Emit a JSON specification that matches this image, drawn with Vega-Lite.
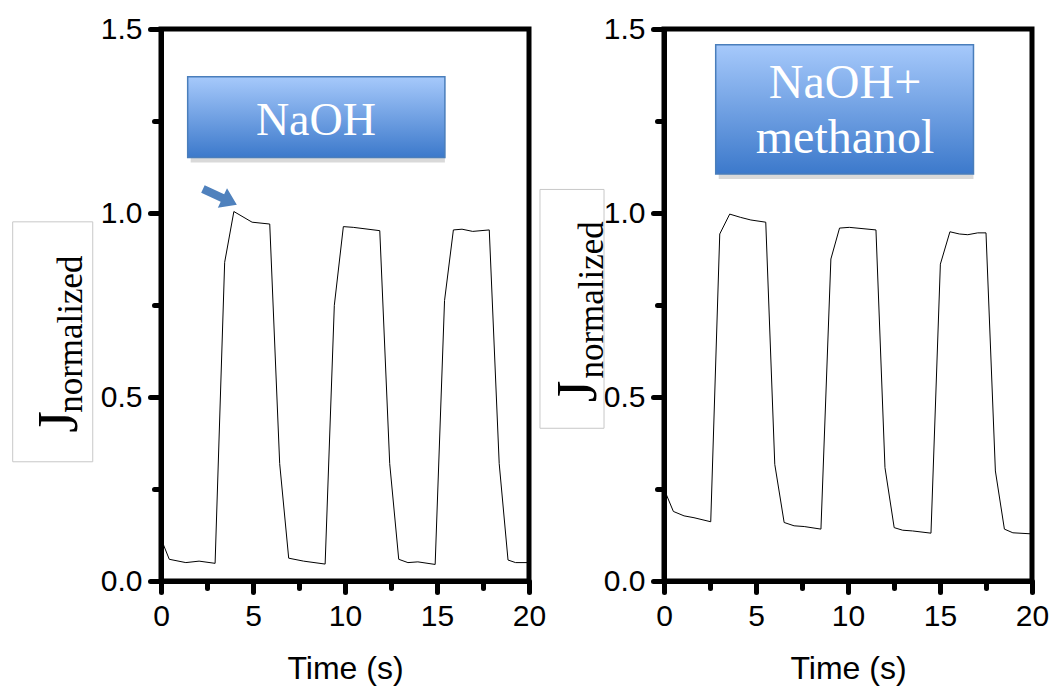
{
  "$schema": "https://vega.github.io/schema/vega-lite/v6.json",
  "background": "white",
  "padding": {"left": 9, "top": 11, "right": 0, "bottom": 0},
  "bounds": "flush",
  "spacing": 135,
  "datasets": {
    "naoh": [
      {"t": 0, "j": 0.115}, {"t": 0.45, "j": 0.059}, {"t": 1.35, "j": 0.05}, {"t": 2.07, "j": 0.054}, {"t": 2.94, "j": 0.048},
      {"t": 3.46, "j": 0.866}, {"t": 3.96, "j": 1.004}, {"t": 4.95, "j": 0.975}, {"t": 5.91, "j": 0.97}, {"t": 6.45, "j": 0.319},
      {"t": 6.94, "j": 0.062}, {"t": 7.75, "j": 0.054}, {"t": 8.92, "j": 0.046}, {"t": 9.42, "j": 0.749}, {"t": 9.91, "j": 0.963},
      {"t": 10.45, "j": 0.961}, {"t": 11.89, "j": 0.952}, {"t": 12.43, "j": 0.319}, {"t": 12.92, "j": 0.059}, {"t": 13.42, "j": 0.05},
      {"t": 13.96, "j": 0.052}, {"t": 14.9, "j": 0.045}, {"t": 15.41, "j": 0.762}, {"t": 15.89, "j": 0.954}, {"t": 16.36, "j": 0.956},
      {"t": 16.94, "j": 0.95}, {"t": 17.84, "j": 0.954}, {"t": 18.38, "j": 0.319}, {"t": 18.86, "j": 0.057}, {"t": 19.27, "j": 0.05},
      {"t": 20, "j": 0.05}
    ],
    "meoh": [
      {"t": 0, "j": 0.25}, {"t": 0.51, "j": 0.189}, {"t": 1.09, "j": 0.177}, {"t": 1.63, "j": 0.172}, {"t": 2.54, "j": 0.161},
      {"t": 3.03, "j": 0.943}, {"t": 3.57, "j": 0.997}, {"t": 4.17, "j": 0.988}, {"t": 4.72, "j": 0.981}, {"t": 5.53, "j": 0.975},
      {"t": 6.02, "j": 0.317}, {"t": 6.53, "j": 0.159}, {"t": 7.07, "j": 0.15}, {"t": 7.62, "j": 0.148}, {"t": 8.53, "j": 0.141},
      {"t": 9.07, "j": 0.875}, {"t": 9.54, "j": 0.959}, {"t": 10.07, "j": 0.961}, {"t": 11.52, "j": 0.954}, {"t": 12.01, "j": 0.308},
      {"t": 12.51, "j": 0.145}, {"t": 12.97, "j": 0.138}, {"t": 13.51, "j": 0.136}, {"t": 14.51, "j": 0.13}, {"t": 15.02, "j": 0.861},
      {"t": 15.54, "j": 0.949}, {"t": 16.05, "j": 0.943}, {"t": 16.51, "j": 0.941}, {"t": 17.05, "j": 0.946}, {"t": 17.5, "j": 0.946},
      {"t": 18.01, "j": 0.299}, {"t": 18.5, "j": 0.141}, {"t": 18.96, "j": 0.131}, {"t": 20, "j": 0.128}
    ],
    "boxL": [{"x1": 1.45, "x2": 15.43, "y1": 1.151, "y2": 1.37}],
    "boxR": [{"x1": 2.81, "x2": 16.82, "y1": 1.106, "y2": 1.457}],
    "labL": [{"x": 8.42, "y": 1.212, "text": "NaOH"}],
    "labR": [{"x": 9.84, "y": 1.312, "text": "NaOH+"}, {"x": 9.84, "y": 1.162, "text": "methanol"}],
    "arrow": [{"x": 3.2, "y": 1.044}],
    "jboxL": [{"x1": -8.06, "x2": -3.71, "y1": 0.324, "y2": 0.976}],
    "jboxR": [{"x1": -6.74, "x2": -3.26, "y1": 0.415, "y2": 1.064}],
    "jL": [{"x": -4.57, "y": 0.403, "text": "J"}],
    "nL": [{"x": -4.3, "y": 0.457, "text": "normalized"}],
    "jR": [{"x": -3.72, "y": 0.486, "text": "J"}],
    "nR": [{"x": -3.33, "y": 0.55, "text": "normalized"}]
  },
  "hconcat": [
    {
      "width": 368,
      "height": 552,
      "layer": [
        {
          "data": {"name": "naoh"},
          "mark": {"type": "line", "color": "black", "strokeWidth": 1},
          "encoding": {
            "x": {"field": "t", "type": "quantitative", "scale": {"domain": [0, 20], "nice": false, "zero": false},
              "axis": {"title": "Time (s)", "values": [0, 2.5, 5, 7.5, 10, 12.5, 15, 17.5, 20], "labelExpr": "datum.value % 5 == 0 ? datum.label : ''", "tickSize": {"condition": {"test": "datum.value % 5 == 0", "value": 11}, "value": 7}, "labelPadding": 9, "titlePadding": 22, "domainWidth": 5, "domainColor": "black", "tickWidth": 5, "tickColor": "black", "tickCap": "round"}},
            "y": {"field": "j", "type": "quantitative", "scale": {"domain": [0, 1.5], "nice": false, "zero": false},
              "axis": {"title": null, "values": [0, 0.25, 0.5, 0.75, 1, 1.25, 1.5], "format": ".1f", "labelExpr": "abs(datum.value * 2 - round(datum.value * 2)) < 0.01 ? datum.label : ''", "tickSize": {"condition": {"test": "abs(datum.value * 2 - round(datum.value * 2)) < 0.01", "value": 11}, "value": 7}, "labelPadding": 8, "domainWidth": 5, "domainColor": "black", "tickWidth": 5, "tickColor": "black", "tickCap": "round"}}
          }
        },
        {
          "data": {"name": "boxL"},
          "mark": {"type": "rect", "fill": "#000000", "opacity": 0.15, "xOffset": 3, "yOffset": 5},
          "encoding": {
            "x": {"field": "x1", "type": "quantitative",
              "axis": {"title": "Time (s)", "values": [0, 2.5, 5, 7.5, 10, 12.5, 15, 17.5, 20], "labelExpr": "datum.value % 5 == 0 ? datum.label : ''", "tickSize": {"condition": {"test": "datum.value % 5 == 0", "value": 11}, "value": 7}, "labelPadding": 9, "titlePadding": 22}},
            "x2": {"field": "x2"},
            "y": {"field": "y1", "type": "quantitative",
              "axis": {"title": null, "values": [0, 0.25, 0.5, 0.75, 1, 1.25, 1.5], "format": ".1f", "labelExpr": "abs(datum.value * 2 - round(datum.value * 2)) < 0.01 ? datum.label : ''", "tickSize": {"condition": {"test": "abs(datum.value * 2 - round(datum.value * 2)) < 0.01", "value": 11}, "value": 7}, "labelPadding": 8}},
            "y2": {"field": "y2"}
          }
        },
        {
          "data": {"name": "boxL"},
          "mark": {"type": "rect", "stroke": "#4a7ebb", "strokeWidth": 1.5,
            "fill": {"gradient": "linear", "x1": 0, "y1": 0, "x2": 0, "y2": 1, "stops": [{"offset": 0, "color": "#a6c9fb"}, {"offset": 1, "color": "#3c79cb"}]}},
          "encoding": {
            "x": {"field": "x1", "type": "quantitative",
              "axis": {"title": "Time (s)", "values": [0, 2.5, 5, 7.5, 10, 12.5, 15, 17.5, 20], "labelExpr": "datum.value % 5 == 0 ? datum.label : ''", "tickSize": {"condition": {"test": "datum.value % 5 == 0", "value": 11}, "value": 7}, "labelPadding": 9, "titlePadding": 22}},
            "x2": {"field": "x2"},
            "y": {"field": "y1", "type": "quantitative",
              "axis": {"title": null, "values": [0, 0.25, 0.5, 0.75, 1, 1.25, 1.5], "format": ".1f", "labelExpr": "abs(datum.value * 2 - round(datum.value * 2)) < 0.01 ? datum.label : ''", "tickSize": {"condition": {"test": "abs(datum.value * 2 - round(datum.value * 2)) < 0.01", "value": 11}, "value": 7}, "labelPadding": 8}},
            "y2": {"field": "y2"}
          }
        },
        {
          "data": {"name": "labL"},
          "mark": {"type": "text", "font": "Liberation Serif", "fontSize": 46, "color": "white", "align": "center", "baseline": "alphabetic"},
          "encoding": {
            "x": {"field": "x", "type": "quantitative",
              "axis": {"title": "Time (s)", "values": [0, 2.5, 5, 7.5, 10, 12.5, 15, 17.5, 20], "labelExpr": "datum.value % 5 == 0 ? datum.label : ''", "tickSize": {"condition": {"test": "datum.value % 5 == 0", "value": 11}, "value": 7}, "labelPadding": 9, "titlePadding": 22}},
            "y": {"field": "y", "type": "quantitative",
              "axis": {"title": null, "values": [0, 0.25, 0.5, 0.75, 1, 1.25, 1.5], "format": ".1f", "labelExpr": "abs(datum.value * 2 - round(datum.value * 2)) < 0.01 ? datum.label : ''", "tickSize": {"condition": {"test": "abs(datum.value * 2 - round(datum.value * 2)) < 0.01", "value": 11}, "value": 7}, "labelPadding": 8}},
            "text": {"field": "text"}
          }
        },
        {
          "data": {"name": "arrow"},
          "mark": {"type": "point", "filled": true, "color": "#4f81bd", "opacity": 1, "size": 1400, "angle": 25,
            "shape": "M-1,-0.22L0.15,-0.22L0.15,-0.58L1,0L0.15,0.58L0.15,0.22L-1,0.22Z"},
          "encoding": {
            "x": {"field": "x", "type": "quantitative",
              "axis": {"title": "Time (s)", "values": [0, 2.5, 5, 7.5, 10, 12.5, 15, 17.5, 20], "labelExpr": "datum.value % 5 == 0 ? datum.label : ''", "tickSize": {"condition": {"test": "datum.value % 5 == 0", "value": 11}, "value": 7}, "labelPadding": 9, "titlePadding": 22}},
            "y": {"field": "y", "type": "quantitative",
              "axis": {"title": null, "values": [0, 0.25, 0.5, 0.75, 1, 1.25, 1.5], "format": ".1f", "labelExpr": "abs(datum.value * 2 - round(datum.value * 2)) < 0.01 ? datum.label : ''", "tickSize": {"condition": {"test": "abs(datum.value * 2 - round(datum.value * 2)) < 0.01", "value": 11}, "value": 7}, "labelPadding": 8}}
          }
        },
        {
          "data": {"name": "jboxL"},
          "mark": {"type": "rect", "fill": "white", "fillOpacity": 0, "stroke": "#c8c8c8", "strokeWidth": 1},
          "encoding": {
            "x": {"field": "x1", "type": "quantitative",
              "axis": {"title": "Time (s)", "values": [0, 2.5, 5, 7.5, 10, 12.5, 15, 17.5, 20], "labelExpr": "datum.value % 5 == 0 ? datum.label : ''", "tickSize": {"condition": {"test": "datum.value % 5 == 0", "value": 11}, "value": 7}, "labelPadding": 9, "titlePadding": 22}},
            "x2": {"field": "x2"},
            "y": {"field": "y1", "type": "quantitative",
              "axis": {"title": null, "values": [0, 0.25, 0.5, 0.75, 1, 1.25, 1.5], "format": ".1f", "labelExpr": "abs(datum.value * 2 - round(datum.value * 2)) < 0.01 ? datum.label : ''", "tickSize": {"condition": {"test": "abs(datum.value * 2 - round(datum.value * 2)) < 0.01", "value": 11}, "value": 7}, "labelPadding": 8}},
            "y2": {"field": "y2"}
          }
        },
        {
          "data": {"name": "jL"},
          "mark": {"type": "text", "font": "Liberation Serif", "fontSize": 56, "color": "black", "align": "left", "baseline": "alphabetic", "angle": 270},
          "encoding": {
            "x": {"field": "x", "type": "quantitative",
              "axis": {"title": "Time (s)", "values": [0, 2.5, 5, 7.5, 10, 12.5, 15, 17.5, 20], "labelExpr": "datum.value % 5 == 0 ? datum.label : ''", "tickSize": {"condition": {"test": "datum.value % 5 == 0", "value": 11}, "value": 7}, "labelPadding": 9, "titlePadding": 22}},
            "y": {"field": "y", "type": "quantitative",
              "axis": {"title": null, "values": [0, 0.25, 0.5, 0.75, 1, 1.25, 1.5], "format": ".1f", "labelExpr": "abs(datum.value * 2 - round(datum.value * 2)) < 0.01 ? datum.label : ''", "tickSize": {"condition": {"test": "abs(datum.value * 2 - round(datum.value * 2)) < 0.01", "value": 11}, "value": 7}, "labelPadding": 8}},
            "text": {"field": "text"}
          }
        },
        {
          "data": {"name": "nL"},
          "mark": {"type": "text", "font": "Liberation Serif", "fontSize": 35, "color": "black", "align": "left", "baseline": "alphabetic", "angle": 270},
          "encoding": {
            "x": {"field": "x", "type": "quantitative",
              "axis": {"title": "Time (s)", "values": [0, 2.5, 5, 7.5, 10, 12.5, 15, 17.5, 20], "labelExpr": "datum.value % 5 == 0 ? datum.label : ''", "tickSize": {"condition": {"test": "datum.value % 5 == 0", "value": 11}, "value": 7}, "labelPadding": 9, "titlePadding": 22}},
            "y": {"field": "y", "type": "quantitative",
              "axis": {"title": null, "values": [0, 0.25, 0.5, 0.75, 1, 1.25, 1.5], "format": ".1f", "labelExpr": "abs(datum.value * 2 - round(datum.value * 2)) < 0.01 ? datum.label : ''", "tickSize": {"condition": {"test": "abs(datum.value * 2 - round(datum.value * 2)) < 0.01", "value": 11}, "value": 7}, "labelPadding": 8}},
            "text": {"field": "text"}
          }
        }
      ]
    },
    {
      "width": 368,
      "height": 552,
      "layer": [
        {
          "data": {"name": "meoh"},
          "mark": {"type": "line", "color": "black", "strokeWidth": 1},
          "encoding": {
            "x": {"field": "t", "type": "quantitative", "scale": {"domain": [0, 20], "nice": false, "zero": false},
              "axis": {"title": "Time (s)", "values": [0, 2.5, 5, 7.5, 10, 12.5, 15, 17.5, 20], "labelExpr": "datum.value % 5 == 0 ? datum.label : ''", "tickSize": {"condition": {"test": "datum.value % 5 == 0", "value": 11}, "value": 7}, "labelPadding": 9, "titlePadding": 22, "domainWidth": 5, "domainColor": "black", "tickWidth": 5, "tickColor": "black", "tickCap": "round"}},
            "y": {"field": "j", "type": "quantitative", "scale": {"domain": [0, 1.5], "nice": false, "zero": false},
              "axis": {"title": null, "values": [0, 0.25, 0.5, 0.75, 1, 1.25, 1.5], "format": ".1f", "labelExpr": "abs(datum.value * 2 - round(datum.value * 2)) < 0.01 ? datum.label : ''", "tickSize": {"condition": {"test": "abs(datum.value * 2 - round(datum.value * 2)) < 0.01", "value": 11}, "value": 7}, "labelPadding": 8, "domainWidth": 5, "domainColor": "black", "tickWidth": 5, "tickColor": "black", "tickCap": "round"}}
          }
        },
        {
          "data": {"name": "boxR"},
          "mark": {"type": "rect", "fill": "#000000", "opacity": 0.15, "xOffset": 3, "yOffset": 5},
          "encoding": {
            "x": {"field": "x1", "type": "quantitative",
              "axis": {"title": "Time (s)", "values": [0, 2.5, 5, 7.5, 10, 12.5, 15, 17.5, 20], "labelExpr": "datum.value % 5 == 0 ? datum.label : ''", "tickSize": {"condition": {"test": "datum.value % 5 == 0", "value": 11}, "value": 7}, "labelPadding": 9, "titlePadding": 22}},
            "x2": {"field": "x2"},
            "y": {"field": "y1", "type": "quantitative",
              "axis": {"title": null, "values": [0, 0.25, 0.5, 0.75, 1, 1.25, 1.5], "format": ".1f", "labelExpr": "abs(datum.value * 2 - round(datum.value * 2)) < 0.01 ? datum.label : ''", "tickSize": {"condition": {"test": "abs(datum.value * 2 - round(datum.value * 2)) < 0.01", "value": 11}, "value": 7}, "labelPadding": 8}},
            "y2": {"field": "y2"}
          }
        },
        {
          "data": {"name": "boxR"},
          "mark": {"type": "rect", "stroke": "#4a7ebb", "strokeWidth": 1.5,
            "fill": {"gradient": "linear", "x1": 0, "y1": 0, "x2": 0, "y2": 1, "stops": [{"offset": 0, "color": "#a6c9fb"}, {"offset": 1, "color": "#3c79cb"}]}},
          "encoding": {
            "x": {"field": "x1", "type": "quantitative",
              "axis": {"title": "Time (s)", "values": [0, 2.5, 5, 7.5, 10, 12.5, 15, 17.5, 20], "labelExpr": "datum.value % 5 == 0 ? datum.label : ''", "tickSize": {"condition": {"test": "datum.value % 5 == 0", "value": 11}, "value": 7}, "labelPadding": 9, "titlePadding": 22}},
            "x2": {"field": "x2"},
            "y": {"field": "y1", "type": "quantitative",
              "axis": {"title": null, "values": [0, 0.25, 0.5, 0.75, 1, 1.25, 1.5], "format": ".1f", "labelExpr": "abs(datum.value * 2 - round(datum.value * 2)) < 0.01 ? datum.label : ''", "tickSize": {"condition": {"test": "abs(datum.value * 2 - round(datum.value * 2)) < 0.01", "value": 11}, "value": 7}, "labelPadding": 8}},
            "y2": {"field": "y2"}
          }
        },
        {
          "data": {"name": "labR"},
          "mark": {"type": "text", "font": "Liberation Serif", "fontSize": 48, "color": "white", "align": "center", "baseline": "alphabetic"},
          "encoding": {
            "x": {"field": "x", "type": "quantitative",
              "axis": {"title": "Time (s)", "values": [0, 2.5, 5, 7.5, 10, 12.5, 15, 17.5, 20], "labelExpr": "datum.value % 5 == 0 ? datum.label : ''", "tickSize": {"condition": {"test": "datum.value % 5 == 0", "value": 11}, "value": 7}, "labelPadding": 9, "titlePadding": 22}},
            "y": {"field": "y", "type": "quantitative",
              "axis": {"title": null, "values": [0, 0.25, 0.5, 0.75, 1, 1.25, 1.5], "format": ".1f", "labelExpr": "abs(datum.value * 2 - round(datum.value * 2)) < 0.01 ? datum.label : ''", "tickSize": {"condition": {"test": "abs(datum.value * 2 - round(datum.value * 2)) < 0.01", "value": 11}, "value": 7}, "labelPadding": 8}},
            "text": {"field": "text"}
          }
        },
        {
          "data": {"name": "jboxR"},
          "mark": {"type": "rect", "fill": "white", "fillOpacity": 0, "stroke": "#c8c8c8", "strokeWidth": 1},
          "encoding": {
            "x": {"field": "x1", "type": "quantitative",
              "axis": {"title": "Time (s)", "values": [0, 2.5, 5, 7.5, 10, 12.5, 15, 17.5, 20], "labelExpr": "datum.value % 5 == 0 ? datum.label : ''", "tickSize": {"condition": {"test": "datum.value % 5 == 0", "value": 11}, "value": 7}, "labelPadding": 9, "titlePadding": 22}},
            "x2": {"field": "x2"},
            "y": {"field": "y1", "type": "quantitative",
              "axis": {"title": null, "values": [0, 0.25, 0.5, 0.75, 1, 1.25, 1.5], "format": ".1f", "labelExpr": "abs(datum.value * 2 - round(datum.value * 2)) < 0.01 ? datum.label : ''", "tickSize": {"condition": {"test": "abs(datum.value * 2 - round(datum.value * 2)) < 0.01", "value": 11}, "value": 7}, "labelPadding": 8}},
            "y2": {"field": "y2"}
          }
        },
        {
          "data": {"name": "jR"},
          "mark": {"type": "text", "font": "Liberation Serif", "fontSize": 56, "color": "black", "align": "left", "baseline": "alphabetic", "angle": 270},
          "encoding": {
            "x": {"field": "x", "type": "quantitative",
              "axis": {"title": "Time (s)", "values": [0, 2.5, 5, 7.5, 10, 12.5, 15, 17.5, 20], "labelExpr": "datum.value % 5 == 0 ? datum.label : ''", "tickSize": {"condition": {"test": "datum.value % 5 == 0", "value": 11}, "value": 7}, "labelPadding": 9, "titlePadding": 22}},
            "y": {"field": "y", "type": "quantitative",
              "axis": {"title": null, "values": [0, 0.25, 0.5, 0.75, 1, 1.25, 1.5], "format": ".1f", "labelExpr": "abs(datum.value * 2 - round(datum.value * 2)) < 0.01 ? datum.label : ''", "tickSize": {"condition": {"test": "abs(datum.value * 2 - round(datum.value * 2)) < 0.01", "value": 11}, "value": 7}, "labelPadding": 8}},
            "text": {"field": "text"}
          }
        },
        {
          "data": {"name": "nR"},
          "mark": {"type": "text", "font": "Liberation Serif", "fontSize": 35, "color": "black", "align": "left", "baseline": "alphabetic", "angle": 270},
          "encoding": {
            "x": {"field": "x", "type": "quantitative",
              "axis": {"title": "Time (s)", "values": [0, 2.5, 5, 7.5, 10, 12.5, 15, 17.5, 20], "labelExpr": "datum.value % 5 == 0 ? datum.label : ''", "tickSize": {"condition": {"test": "datum.value % 5 == 0", "value": 11}, "value": 7}, "labelPadding": 9, "titlePadding": 22}},
            "y": {"field": "y", "type": "quantitative",
              "axis": {"title": null, "values": [0, 0.25, 0.5, 0.75, 1, 1.25, 1.5], "format": ".1f", "labelExpr": "abs(datum.value * 2 - round(datum.value * 2)) < 0.01 ? datum.label : ''", "tickSize": {"condition": {"test": "abs(datum.value * 2 - round(datum.value * 2)) < 0.01", "value": 11}, "value": 7}, "labelPadding": 8}},
            "text": {"field": "text"}
          }
        }
      ]
    }
  ],
  "config": {
    "view": {"stroke": "black", "strokeWidth": 5},
    "axis": {
      "grid": false,
      "domainColor": "black", "domainWidth": 5,
      "tickColor": "black", "tickWidth": 5, "tickCap": "round",
      "labelFont": "Liberation Sans", "labelFontSize": 30, "labelColor": "black",
      "labelFlush": false, "labelOverlap": false, "labelBound": false,
      "titleFont": "Liberation Sans", "titleFontSize": 32, "titleFontWeight": "normal", "titleColor": "black"
    }
  }
}
